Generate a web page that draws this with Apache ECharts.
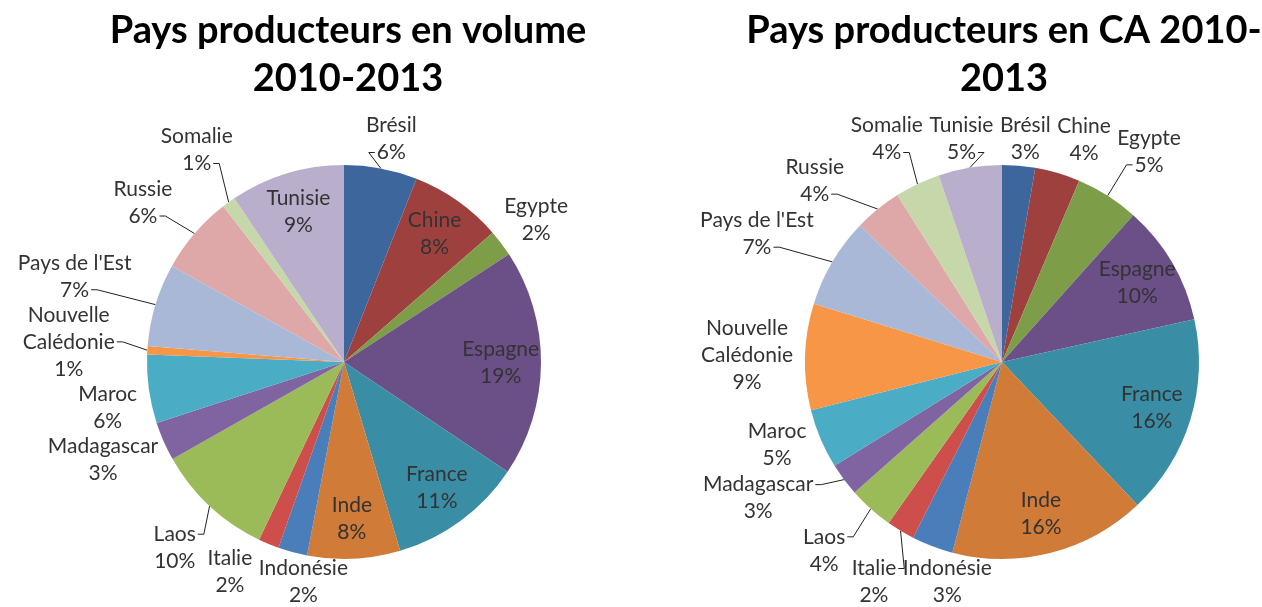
<!DOCTYPE html>
<html>
<head>
<meta charset="utf-8">
<title>Pays producteurs 2010-2013</title>
<script src="https://cdn.jsdelivr.net/npm/echarts@6/dist/echarts.min.js"></script>
<style>
  html, body { margin: 0; padding: 0; background: #fff; }
  #chart { width: 1262px; height: 607px; }
</style>
</head>
<body>
<div id="chart"></div>
<script>
  // donnees (parts en %)
  var pays = ['Brésil', 'Chine', 'Egypte', 'Espagne', 'France', 'Inde', 'Indonésie', 'Italie',
              'Laos', 'Madagascar', 'Maroc', 'Nouvelle Calédonie', "Pays de l'Est", 'Russie', 'Somalie', 'Tunisie'];
  var volume = [6.0, 7.6, 2.2, 18.6, 11.0, 7.6, 2.4, 1.7, 9.7, 3.2, 5.6, 0.7, 6.8, 6.4, 1.1, 9.4];
  var ca = [2.7, 3.7, 5.2, 9.9, 16.4, 16.1, 3.4, 2.3, 3.7, 2.7, 4.9, 8.7, 7.4, 3.9, 3.7, 5.2];

  var couleurs = ['#3D679C', '#9E413E', '#7E9D48', '#6B4F87', '#398EA6', '#D07B37', '#4A7EBB', '#CD4E4B',
                  '#9BBB59', '#8064A2', '#4BACC6', '#F79646', '#A9B8D7', '#DDA8A7', '#C6D8AA', '#B9AFCD'];

  // etiquettes placees dans les parts
  var dedansVolume = ['Tunisie', 'Chine', 'Espagne', 'France', 'Inde'];
  var dedansCA = ['Espagne', 'France', 'Inde'];
  // etiquettes reliees par un trait
  var traitVolume = ['Brésil', 'Laos', 'Nouvelle Calédonie', "Pays de l'Est", 'Russie', 'Somalie'];
  var traitCA = ['Egypte', 'Tunisie', 'Somalie', 'Russie', "Pays de l'Est", 'Madagascar', 'Laos', 'Italie'];

  var police = 'Lato, "Open Sans", sans-serif';
  var TAILLE = 21, LH = 27;
  var R = 197, CY = 362;

  var ctx = document.createElement('canvas').getContext('2d');
  ctx.font = TAILLE + 'px Lato';

  function lignes(nom, v) {
    var l = nom.replace('Nouvelle ', 'Nouvelle\n').split('\n');
    l.push(Math.round(v) + '%');
    return l;
  }
  function texte(p) { return lignes(p.name, p.value).join('\n'); }

  // place les etiquettes exterieures a la facon d'Excel : au bord de la part, puis ecartees si elles se chevauchent
  function placer(valeurs, dedans, trait, cx) {
    var total = valeurs.reduce(function (a, b) { return a + b; }, 0);
    var cum = 0, boites = [];
    valeurs.forEach(function (v, i) {
      var th = 2 * Math.PI * (cum + v / 2) / total;
      cum += v;
      if (dedans.indexOf(pays[i]) >= 0) return;
      var l = lignes(pays[i], v);
      var lw = l.map(function (t) { return ctx.measureText(t).width; });
      var w = Math.max.apply(null, lw), h = l.length * LH;
      var s = Math.sin(th), c = -Math.cos(th);
      var ecart = trait.indexOf(pays[i]) >= 0 ? 30 : 12;
      boites.push({ i: i, th: th, s: s, c: c, w: w, h: h, lw: lw, n: l.length,
        x: cx + s * (R + ecart) + s * w / 2, y: CY + c * (R + ecart) + c * h / 2 });
    });
    function borner(b) {
      b.y = Math.max(112 + b.h / 2, Math.min(609 - b.h / 2, b.y));
      b.x = Math.max(4 + b.w / 2, Math.min(1258 - b.w / 2, b.x));
    }
    for (var it = 0; it < 400; it++) {
      var bouge = false;
      for (var a = 0; a < boites.length; a++) {
        for (var b = a + 1; b < boites.length; b++) {
          var A = boites[a], B = boites[b];
          if (Math.abs(A.x - B.x) < (A.w + B.w) / 2 + 6 && Math.abs(A.y - B.y) < (A.h + B.h) / 2 - 2) {
            var av = A, ap = B, t = (A.th + B.th) / 2;
            if (B.th - A.th > Math.PI) { av = B; ap = A; t += Math.PI; }
            var dx = Math.cos(t), dy = Math.sin(t);
            av.x -= dx; av.y -= dy; ap.x += dx; ap.y += dy;
            borner(av); borner(ap);
            bouge = true;
          }
        }
      }
      if (!bouge) break;
    }
    var res = {};
    boites.forEach(function (b) {
      borner(b);
      var ex = cx + b.s * R, ey = CY + b.c * R;
      // ligne de texte la plus proche du bord de la part
      var k = 0, best = 1e9;
      for (var j = 0; j < b.n; j++) {
        var yj = b.y - b.h / 2 + LH * (j + 0.5);
        if (Math.abs(yj - ey) < best) { best = Math.abs(yj - ey); k = j; }
      }
      var ay = b.y - b.h / 2 + LH * (k + 0.5);
      var cote = b.x > ex ? -1 : 1;
      var ax = b.x + cote * (b.lw[k] / 2 + 2);
      res[b.i] = { x: b.x, y: b.y, pts: [[ex, ey], [ax + cote * 6, ay], [ax, ay]] };
    });
    return res;
  }

  var styleTexte = { fontFamily: police, fontSize: TAILLE, lineHeight: LH, color: '#333' };

  function camembert(valeurs, dedans, trait, cx) {
    var pos = placer(valeurs, dedans, trait, cx);
    var principal = {
      type: 'pie',
      center: [cx, CY],
      radius: R,
      startAngle: 90,
      clockwise: true,
      avoidLabelOverlap: false,
      emphasis: { disabled: true },
      label: Object.assign({ position: 'outside', formatter: texte }, styleTexte),
      labelLine: { length: 10, length2: 8, lineStyle: { color: '#222', width: 1 } },
      labelLayout: function (p) {
        var b = pos[p.dataIndex];
        if (!b) return {};
        return { x: b.x, y: b.y, align: 'center', verticalAlign: 'middle', labelLinePoints: b.pts };
      },
      data: pays.map(function (p, i) {
        var ext = dedans.indexOf(p) < 0;
        return {
          name: p,
          value: valeurs[i],
          itemStyle: { color: couleurs[i] },
          label: { show: ext },
          labelLine: { show: ext && trait.indexOf(p) >= 0 }
        };
      })
    };
    var interieur = {
      type: 'pie',
      center: [cx, CY],
      radius: [R * 0.56, R],
      startAngle: 90,
      clockwise: true,
      silent: true,
      emphasis: { disabled: true },
      label: Object.assign({ position: 'inside', formatter: texte }, styleTexte),
      labelLine: { show: false },
      data: pays.map(function (p, i) {
        return {
          name: p,
          value: valeurs[i],
          itemStyle: { color: 'rgba(0,0,0,0)' },
          label: { show: dedans.indexOf(p) >= 0 }
        };
      })
    };
    return [principal, interieur];
  }

  var titre = { fontFamily: police, fontWeight: 'bold', fontSize: 38, lineHeight: 48, color: '#000' };

  var chart = echarts.init(document.getElementById('chart'));
  chart.setOption({
    animation: false,
    backgroundColor: '#fff',
    title: [
      { text: 'Pays producteurs en volume\n2010-2013', left: 343, top: 2, textAlign: 'center', textStyle: titre },
      { text: 'Pays producteurs en CA 2010-\n2013', left: 999, top: 2, textAlign: 'center', textStyle: titre }
    ],
    series: camembert(volume, dedansVolume, traitVolume, 344).concat(camembert(ca, dedansCA, traitCA, 1002))
  });
</script>
</body>
</html>
